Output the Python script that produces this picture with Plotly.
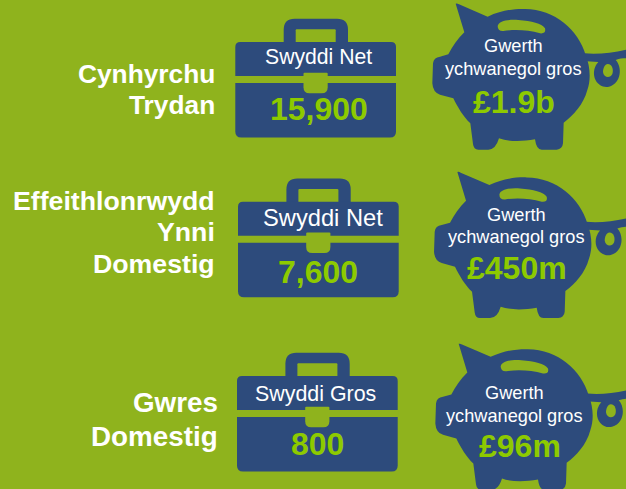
import plotly.graph_objects as go

# ---- content ----
sector_lines = [["Cynhyrchu", "Trydan"], ["Effeithlonrwydd", "Ynni", "Domestig"], ["Gwres", "Domestig"]]
job_labels = ["Swyddi Net", "Swyddi Net", "Swyddi Gros"]
job_values = ["15,900", "7,600", "800"]
value_labels = [["Gwerth", "ychwanegol gros"]] * 3
gva_values = ["£1.9b", "£450m", "£96m"]

# ---- layout (pixels) ----
W, H = 626, 489
BG, NAVY, WHITE, LIME = "#8FB31D", "#2D4B7C", "#FFFFFF", "#8DCA00"
FONT = "Liberation Sans"
sector_y = [[74, 105], [201, 232, 264], [402, 436]]
sector_right = [214.8, 215, 218]
sector_size = [26.3, 26.7, 27.8]
case_xy = [(235.3, 42), (238, 201.7), (237, 376)]
case_size = (160.7, 95.6)
job_label_xy = [(318.5, 57), (323, 218), (315, 393.5)]
job_label_size = [21.2, 23.7, 21.4]
job_value_xy = [(318.5, 109), (318, 271.5), (317, 444)]
pig_xy = [(425, 0), (426.7, 168.4), (428, 340.2)]
gva_label_y = [(46, 68.5), (214.5, 237), (392.5, 415.5)]
gva_label_x = [513, 516, 514.2]
gva_label_size = 18.2
gva_value_xy = [(513.5, 102), (516.5, 267.8), (520, 445.5)]


def path(points, ox, oy, k=1.0):
    parts = []
    for p in points:
        cmd, nums = p[0], p[1:]
        coords = []
        for i in range(0, len(nums), 2):
            coords.append(f"{ox + nums[i] * k:.2f},{oy + nums[i + 1] * k:.2f}")
        parts.append(cmd + " " + " ".join(coords))
    return " ".join(parts) + " Z"


def rounded(x0, y0, x1, y1, rt, rb):
    return [
        ("M", x0 + rt, y0), ("L", x1 - rt, y0), ("Q", x1, y0, x1, y0 + rt),
        ("L", x1, y1 - rb), ("Q", x1, y1, x1 - rb, y1), ("L", x0 + rb, y1),
        ("Q", x0, y1, x0, y1 - rb), ("L", x0, y0 + rt), ("Q", x0, y0, x0 + rt, y0),
    ]


PIG_BODY = [
    ("M", 92, 11), ("Q", 96, 9, 102, 13), ("L", 188, 50),
    ("C", 230, 30, 270, 26, 300, 27), ("C", 390, 28, 460, 90, 482, 165),
    ("C", 496, 200, 498, 240, 487, 270), ("C", 475, 315, 445, 345, 416, 368),
    ("L", 414, 430), ("Q", 412, 448, 395, 449), ("L", 350, 449), ("Q", 334, 449, 330, 418),
    ("C", 290, 425, 250, 425, 222, 415), ("Q", 212, 449, 190, 449), ("L", 160, 449),
    ("Q", 146, 449, 144, 432), ("L", 136, 370), ("C", 115, 350, 98, 322, 85, 295),
    ("L", 45, 284), ("Q", 24, 278, 22, 250), ("L", 24, 190), ("Q", 26, 172, 45, 170),
    ("L", 70, 163), ("C", 82, 140, 98, 115, 118, 97),
]
PIG_TAIL = [
    ("M", 478, 160), ("C", 520, 164, 560, 158, 603, 149), ("L", 603, 175),
    ("C", 592, 175, 584, 176, 572, 180), ("C", 592, 200, 590, 250, 552, 260),
    ("C", 520, 266, 500, 235, 509, 205), ("Q", 512, 194, 520, 186), ("L", 485, 184),
]
PIG_SLOT = [
    ("M", 218, 78), ("C", 222, 62, 250, 58, 280, 60), ("C", 320, 63, 350, 70, 360, 85),
    ("Q", 364, 102, 345, 100), ("C", 310, 90, 270, 88, 235, 93), ("Q", 218, 94, 218, 78),
]
PIG_HOLE = [
    ("M", 548, 192), ("C", 562, 192, 566, 210, 562, 222), ("C", 556, 236, 536, 234, 534, 216),
    ("C", 534, 204, 540, 192, 548, 192),
]

shapes, annotations = [], []


def add_shape(d, color):
    shapes.append(dict(type="path", path=d, xref="x", yref="y",
                       fillcolor=color, line=dict(width=0), layer="below"))


def add_text(x, y, text, size, color=WHITE, bold=False, anchor="center"):
    annotations.append(dict(x=x, y=y, xref="x", yref="y", text=f"<b>{text}</b>" if bold else text,
                            showarrow=False, xanchor=anchor, yanchor="middle",
                            font=dict(family=FONT, size=size, color=color),
                            borderpad=0, borderwidth=0))


def add_case(ox, oy):
    w, h = case_size
    add_shape(path(rounded(48.4, -23.3, 112.7, 2, 11, 0), ox, oy), NAVY)
    add_shape(path(rounded(60.4, -12.7, 100.4, 2, 1, 0), ox, oy), BG)
    add_shape(path(rounded(0, 0, w, h, 5, 6), ox, oy), NAVY)
    add_shape(path(rounded(-1, 34, w + 1, 41, 0, 0), ox, oy), BG)
    add_shape(path(rounded(68.2, 30.7, 92.4, 51.2, 1, 6), ox, oy), BG)


def add_pig(ox, oy):
    k = 1 / 3
    add_shape(path(PIG_TAIL, ox, oy, k), NAVY)
    add_shape(path(PIG_BODY, ox, oy, k), NAVY)
    add_shape(path(PIG_SLOT, ox, oy, k), BG)
    add_shape(path(PIG_HOLE, ox, oy, k), BG)


for i in range(3):
    for line, y in zip(sector_lines[i], sector_y[i]):
        add_text(sector_right[i], y, line, sector_size[i], bold=True, anchor="right")
    add_case(*case_xy[i])
    add_text(*job_label_xy[i], job_labels[i], job_label_size[i])
    add_text(*job_value_xy[i], job_values[i], 32, LIME, True)
    add_pig(*pig_xy[i])
    for line, y in zip(value_labels[i], gva_label_y[i]):
        add_text(gva_label_x[i], y, line, gva_label_size)
    add_text(*gva_value_xy[i], gva_values[i], 32, LIME, True)

fig = go.Figure()
fig.update_layout(
    width=W, height=H, margin=dict(l=0, r=0, t=0, b=0),
    paper_bgcolor=BG, plot_bgcolor=BG, showlegend=False,
    font=dict(family=FONT),
    xaxis=dict(range=[0, W], visible=False, fixedrange=True),
    yaxis=dict(range=[H, 0], visible=False, fixedrange=True),
    shapes=shapes, annotations=annotations,
)
fig.write_html("out.html", config={"displayModeBar": False},
               post_script="document.body.style.margin='0';document.body.style.background='#8FB31D';")
